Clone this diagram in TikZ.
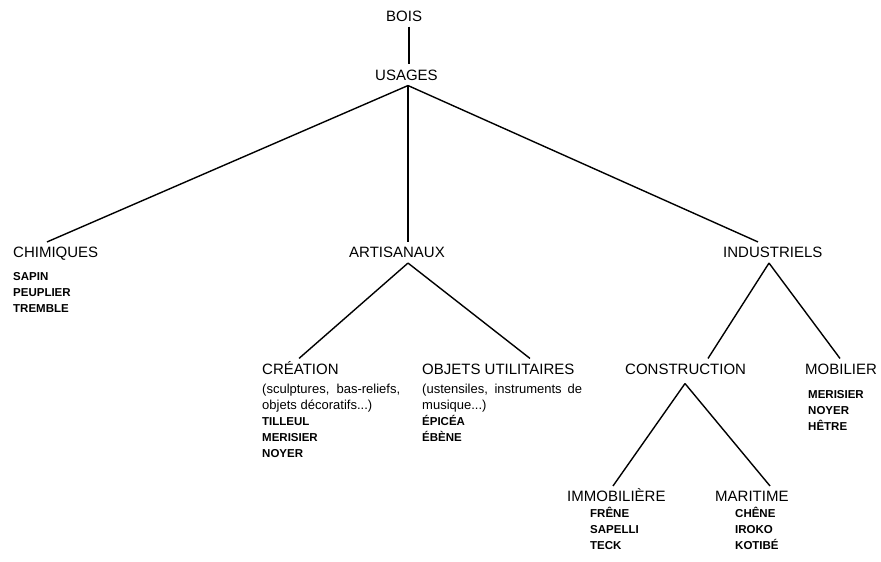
\documentclass[tikz,border=0pt]{standalone}
\usepackage{fontspec}
\setmainfont{Liberation Sans}
\usepackage{tikz}

\begin{document}
\begin{tikzpicture}[x=1pt,y=-1pt,
	titre/.style={anchor=west, inner xsep=0pt, inner ysep=5pt, text height=10.7pt, text depth=0pt, font=\fontsize{15}{18}\selectfont},
	liste/.style={anchor=north west, inner sep=0pt, align=left, font=\fontsize{11.5}{16}\selectfont\bfseries},
	trait/.style={line width=1.4pt}]
%	\draw [help lines] (0,0) grid (881,562);
	\useasboundingbox (0,0) rectangle (881,562);
	%Racine
	\node [titre] (bois) at (386,16) {BOIS};
	\node [titre] (usages) at (375,75) {USAGES};
	\draw [trait] ([xshift=23pt]bois.south west) -- ([xshift=34pt]usages.north west);
	%Usages
	\node [titre] (chim) at (13,252.5) {CHIMIQUES};
	\node [titre] (artis) at (349,252.5) {ARTISANAUX};
	\node [titre] (indus) at (723,252.5) {INDUSTRIELS};
	\draw [trait] ([xshift=33pt]usages.south west) -- ([xshift=34pt]chim.north west);
	\draw [trait] ([xshift=33pt]usages.south west) -- ([xshift=59pt]artis.north west);
	\draw [trait] ([xshift=33pt]usages.south west) -- ([xshift=35pt]indus.north west);
	\node [liste] (chimlist) at (13,272.5) {SAPIN\\PEUPLIER\\TREMBLE};
	%Artisanaux
	\node [titre] (crea) at (262,369) {CRÉATION};
	\node [titre] (objets) at (422,369) {OBJETS UTILITAIRES};
	\draw [trait] ([xshift=59pt]artis.south west) -- ([xshift=37pt]crea.north west);
	\draw [trait] ([xshift=59pt]artis.south west) -- ([xshift=108pt]objets.north west);
	\node [liste] (crealist) at (262,384) {{\mdseries\fontsize{13}{16}\selectfont\makebox[138pt][s]{(sculptures, bas-reliefs,}}\\
		{\mdseries\fontsize{13}{16}\selectfont\makebox[110pt][s]{objets décoratifs...)}}\\TILLEUL\\MERISIER\\NOYER};
	\node [liste] (objlist) at (422,384) {{\mdseries\fontsize{13}{16}\selectfont\makebox[160pt][s]{(ustensiles, instruments de}}\\
		{\mdseries\fontsize{13}{16}\selectfont musique...)}\\ÉPICÉA\\ÉBÈNE};
	%Industriels
	\node [titre] (constr) at (625,369) {CONSTRUCTION};
	\node [titre] (mobil) at (805,369) {MOBILIER};
	\draw [trait] ([xshift=46pt]indus.south west) -- ([xshift=83pt]constr.north west);
	\draw [trait] ([xshift=46pt]indus.south west) -- ([xshift=35pt]mobil.north west);
	\node [liste] (mobillist) at (808,390.5) {MERISIER\\NOYER\\HÊTRE};
	%Construction
	\node [titre] (immo) at (567,496.5) {IMMOBILIÈRE};
	\node [titre] (mari) at (715,496.5) {MARITIME};
	\draw [trait] ([xshift=60pt,yshift=-4pt]constr.south west) -- ([xshift=46pt]immo.north west);
	\draw [trait] ([xshift=60pt,yshift=-4pt]constr.south west) -- ([xshift=55pt]mari.north west);
	\node [liste] (immolist) at (590,507) {FRÊNE\\SAPELLI\\TECK};
	\node [liste] (marilist) at (735,507) {CHÊNE\\IROKO\\KOTIBÉ};
\end{tikzpicture}
\end{document}
